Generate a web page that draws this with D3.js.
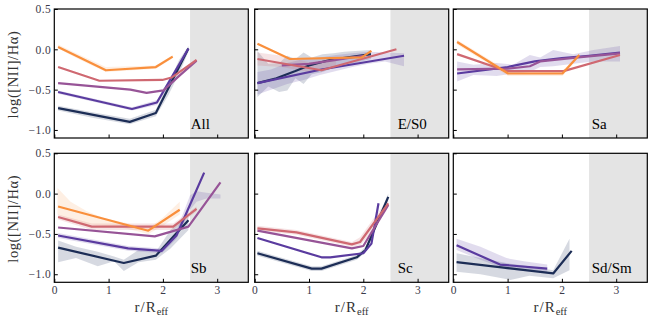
<!DOCTYPE html>
<html>
<head>
<meta charset="utf-8">
<script src="https://cdn.jsdelivr.net/npm/d3@7"></script>
<style>
  body { margin: 0; background: #fff; }
</style>
</head>
<body>
<svg id="chart" width="656" height="324"></svg>
<script>
'use strict';

// panels and colour bins (dark -> light)
const categories = [ 'All', 'E/S0', 'Sa', 'Sb', 'Sc', 'Sd/Sm' ];
const binColors  = [ '#1c2d56', '#5a3b9f', '#975497', '#cf6871', '#f98f3c' ];
const xTicks     = [ 0, 1, 2, 3 ];
const xTickLabels = [ '0', '1', '2', '3' ];
const yTicks     = [ 0.5, 0.0, -0.5, -1.0 ];
const yTickLabels = [ '0.5', '0.0', '\u22120.5', '\u22121.0' ];
const rLimit     = 2.5;

// median profiles [r, log([NII]/Ha)], one per bin (null = no data)
const profAll = [
  [ [0.07,-0.73], [1.39,-0.90], [1.87,-0.79], [2.47,0.01] ],
  [ [0.07,-0.53], [1.43,-0.74], [1.89,-0.66], [2.47,0.01] ],
  [ [0.07,-0.42], [1.40,-0.50], [1.70,-0.54], [2.01,-0.51], [2.30,-0.33], [2.62,-0.14] ],
  [ [0.07,-0.22], [0.83,-0.39], [1.99,-0.38], [2.16,-0.35], [2.62,-0.13] ],
  [ [0.07,0.03], [0.95,-0.26], [1.87,-0.22], [2.18,-0.09] ]
];
const profES0 = [
  [ [0.05,-0.42], [0.40,-0.36], [0.75,-0.27], [1.00,-0.20], [1.40,-0.13], [2.14,-0.06] ],
  [ [0.05,-0.42], [1.23,-0.25], [2.75,-0.08] ],
  [ [0.50,-0.20], [1.00,-0.18], [1.50,-0.13], [2.00,-0.08] ],
  [ [0.05,-0.12], [1.23,-0.26], [2.61,0.00] ],
  [ [0.05,0.07], [0.65,-0.12], [1.97,-0.10], [2.15,-0.02] ]
];
const profSa = [
  null,
  [ [0.07,-0.30], [1.00,-0.22], [1.50,-0.15], [2.00,-0.11], [2.50,-0.08], [3.07,-0.04] ],
  [ [0.07,-0.25], [1.00,-0.24], [1.41,-0.21], [1.60,-0.15], [2.30,-0.10], [3.07,-0.05] ],
  [ [0.07,-0.06], [0.98,-0.27], [2.03,-0.27], [3.07,-0.07] ],
  [ [0.07,0.09], [1.01,-0.30], [2.01,-0.30], [2.32,-0.07] ]
];
const profSb = [
  [ [0.07,-0.67], [1.28,-0.86], [1.87,-0.77], [2.47,-0.33] ],
  [ [0.07,-0.52], [1.36,-0.68], [1.98,-0.71], [2.25,-0.52], [2.76,0.26] ],
  [ [0.07,-0.42], [1.85,-0.53], [2.47,-0.41], [3.06,0.14] ],
  [ [0.07,-0.29], [0.69,-0.41], [2.19,-0.41], [2.62,-0.19] ],
  [ [0.07,-0.16], [1.73,-0.46], [2.31,-0.20] ]
];
const profSc = [
  [ [0.05,-0.74], [1.05,-0.93], [1.23,-0.93], [1.88,-0.79], [2.04,-0.70], [2.46,-0.04] ],
  [ [0.05,-0.55], [1.23,-0.79], [1.39,-0.79], [2.00,-0.74], [2.15,-0.62], [2.28,-0.12] ],
  [ [0.05,-0.46], [1.79,-0.68], [2.00,-0.65], [2.46,-0.14] ],
  [ [0.05,-0.43], [0.77,-0.48], [1.79,-0.63], [1.94,-0.60], [2.46,-0.12] ],
  null
];
const profSdSm = [
  [ [0.06,-0.85], [1.84,-0.99], [2.18,-0.71] ],
  [ [0.06,-0.64], [0.86,-0.88], [1.73,-0.93] ],
  null, null, null
];

// scatter bands [bin, [[r, lo, hi], ...]]
const bandAll = [
  [ 0, [ [0.07,-0.76,-0.70], [0.70,-0.85,-0.78], [1.39,-0.93,-0.86], [1.87,-0.83,-0.75], [2.10,-0.57,-0.42], [2.30,-0.30,-0.13], [2.47,-0.03,0.04] ] ],
  [ 1, [ [0.07,-0.55,-0.51], [1.43,-0.76,-0.72], [1.89,-0.69,-0.63], [2.47,-0.02,0.03] ] ],
  [ 4, [ [0.07,0.01,0.06], [0.50,-0.14,-0.08], [0.95,-0.28,-0.22], [1.87,-0.24,-0.20], [2.18,-0.11,-0.07] ] ]
];
const bandES0 = [
  [ 0, [ [0.05,-0.59,-0.02], [0.25,-0.46,-0.18], [0.45,-0.53,-0.17], [0.60,-0.51,-0.08], [0.75,-0.36,-0.12], [0.90,-0.43,-0.04], [1.05,-0.31,-0.10], [1.25,-0.28,-0.06], [1.45,-0.23,-0.05], [1.65,-0.20,-0.03], [1.85,-0.17,-0.02], [2.14,-0.12,-0.01] ] ],
  [ 1, [ [0.05,-0.56,-0.28], [0.30,-0.50,-0.25], [0.60,-0.43,-0.17], [0.90,-0.38,-0.12], [1.20,-0.32,-0.10], [1.50,-0.27,-0.07], [1.80,-0.22,-0.05], [2.10,-0.18,-0.03], [2.40,-0.15,-0.04], [2.75,-0.21,-0.05] ] ],
  [ 3, [ [0.05,-0.20,-0.04], [0.50,-0.22,-0.08], [1.00,-0.28,-0.16], [1.50,-0.22,-0.12] ] ]
];
const bandSa = [
  [ 1, [ [0.07,-0.40,-0.15], [0.37,-0.32,-0.19], [0.80,-0.33,-0.17], [1.10,-0.30,-0.19], [1.41,-0.28,-0.07], [1.60,-0.22,-0.10], [1.84,-0.21,-0.01], [2.21,-0.18,-0.06], [2.58,-0.15,-0.01], [3.07,-0.15,0.04] ] ],
  [ 4, [ [0.07,0.06,0.12], [1.01,-0.33,-0.27], [2.01,-0.33,-0.27], [2.32,-0.09,-0.05] ] ]
];
const bandSb = [
  [ 0, [ [0.07,-0.85,-0.58], [0.40,-0.80,-0.66], [0.80,-0.90,-0.72], [1.10,-0.84,-0.78], [1.28,-0.96,-0.82], [1.55,-0.85,-0.70], [1.87,-0.82,-0.72], [2.14,-0.68,-0.45], [2.47,-0.45,-0.25] ] ],
  [ 1, [ [0.07,-0.55,-0.49], [1.36,-0.71,-0.65], [1.98,-0.74,-0.68], [2.25,-0.56,-0.46], [2.50,-0.20,-0.02], [2.62,-0.10,0.03], [2.80,-0.06,0.01], [3.06,-0.06,-0.01] ] ],
  [ 3, [ [0.07,-0.32,-0.26], [0.69,-0.45,-0.37], [1.50,-0.45,-0.37], [2.19,-0.45,-0.37], [2.62,-0.22,-0.16] ] ],
  [ 4, [ [0.06,-0.26,0.07], [0.30,-0.33,-0.10], [0.60,-0.38,-0.22], [0.90,-0.40,-0.30], [1.30,-0.43,-0.36], [1.73,-0.50,-0.43], [2.00,-0.40,-0.30], [2.31,-0.26,-0.10] ] ]
];
const bandSc = [
  [ 0, [ [0.05,-0.77,-0.71], [1.05,-0.96,-0.90], [1.23,-0.96,-0.90], [1.88,-0.82,-0.76], [2.04,-0.73,-0.66], [2.46,-0.08,0.00] ] ],
  [ 3, [ [0.05,-0.46,-0.40], [0.77,-0.51,-0.45], [1.79,-0.66,-0.60], [1.94,-0.64,-0.54], [2.20,-0.45,-0.30], [2.46,-0.17,-0.07] ] ]
];
const bandSdSm = [
  [ 0, [ [0.06,-0.97,-0.74], [0.50,-1.00,-0.80], [1.05,-1.07,-0.87], [1.40,-1.02,-0.90], [1.84,-1.05,-0.95], [2.14,-0.95,-0.56] ] ],
  [ 1, [ [0.06,-0.70,-0.56], [0.50,-0.82,-0.66], [0.98,-0.94,-0.80], [1.30,-0.96,-0.84], [1.73,-0.98,-0.88] ] ]
];

const profiles = [ profAll, profES0, profSa, profSb, profSc, profSdSm ];
const bands    = [ bandAll, bandES0, bandSa, bandSb, bandSc, bandSdSm ];

// layout
const colX   = [ 54.3, 254.7, 453.3 ],
      rowY   = [ 9, 153.3 ],
      panelW = 194,
      panelH = 129,
      tagX   = [ 136.4, 143, 138.4, 136.4, 143, 138.4 ],
      serif  = '"Liberation Serif", "Times New Roman", serif';

const svg = d3.select( '#chart' ).attr( 'font-family', serif );

const x = d3.scaleLinear().domain( [ 0, panelW / 54.3 ] ).range( [ 0, panelW ] );
const y = d3.scaleLinear().domain( [ -1.1, 0.5 ] ).range( [ panelH, 0 ] );

const line = d3.line().x( (d) => x( d[0] ) ).y( (d) => y( d[1] ) );
const area = d3.area().x( (d) => x( d[0] ) ).y0( (d) => y( d[1] ) ).y1( (d) => y( d[2] ) );

svg.append( 'defs' ).append( 'clipPath' ).attr( 'id', 'clip' )
  .append( 'rect' ).attr( 'width', panelW ).attr( 'height', panelH );

categories.forEach( (cat, i) => {
  const col = i % 3, row = Math.floor( i / 3 );
  const g = svg.append( 'g' ).attr( 'transform', `translate(${colX[col]},${rowY[row]})` );

  // excluded radial range
  g.append( 'rect' )
    .attr( 'x', x( rLimit ) ).attr( 'y', 0 )
    .attr( 'width', panelW - x( rLimit ) ).attr( 'height', panelH )
    .attr( 'fill', '#e4e4e4' );

  const plot = g.append( 'g' ).attr( 'clip-path', 'url(#clip)' );

  bands[i].forEach( ([ bin, pts ]) => {
    plot.append( 'path' )
      .attr( 'd', area( pts ) )
      .attr( 'fill', binColors[bin] )
      .attr( 'fill-opacity', bin === 4 ? 0.14 : 0.18 );
  });

  profiles[i].forEach( (pts, bin) => {
    if( !pts ) return;
    plot.append( 'path' )
      .attr( 'd', line( pts ) )
      .attr( 'fill', 'none' )
      .attr( 'stroke', binColors[bin] )
      .attr( 'stroke-width', 2.2 )
      .attr( 'stroke-linejoin', 'round' );
  });

  // axes with inward ticks
  const xAxis = d3.axisBottom( x ).tickValues( xTicks ).tickSizeInner( -3.5 ).tickSizeOuter( 0 )
                  .tickFormat( (d, k) => row === 1 ? xTickLabels[k] : '' );
  const yAxis = d3.axisLeft( y ).tickValues( yTicks ).tickSizeInner( -3.5 ).tickSizeOuter( 0 )
                  .tickFormat( (d, k) => col === 0 ? yTickLabels[k] : '' );

  const gx = g.append( 'g' ).attr( 'transform', `translate(0,${panelH})` ).call( xAxis );
  const gy = g.append( 'g' ).call( yAxis );
  [ gx, gy ].forEach( (a) => {
    a.attr( 'font-family', serif ).attr( 'font-size', 11.5 );
    a.select( '.domain' ).remove();
    a.selectAll( 'line' ).attr( 'stroke', '#000' ).attr( 'stroke-width', 1 );
    a.selectAll( 'text' ).attr( 'fill', '#3a3a4a' ).attr( 'letter-spacing', 0.5 );
  });
  gx.selectAll( 'text' ).attr( 'y', 4 );
  gy.selectAll( 'text' ).attr( 'x', -3 );

  // frame
  g.append( 'rect' )
    .attr( 'width', panelW ).attr( 'height', panelH )
    .attr( 'fill', 'none' ).attr( 'stroke', '#000' ).attr( 'stroke-width', 1.2 );

  // morphology tag
  g.append( 'text' )
    .attr( 'x', tagX[i] ).attr( 'y', panelH - 9 )
    .attr( 'font-family', serif )
    .attr( 'font-size', 15 )
    .attr( 'fill', '#000' )
    .text( cat );

  if( row === 1 ) {
    const t = g.append( 'text' )
      .attr( 'x', panelW / 2 ).attr( 'y', panelH + 30 )
      .attr( 'text-anchor', 'middle' )
      .attr( 'font-family', serif )
      .attr( 'font-size', 15 )
      .attr( 'fill', '#333' );
    t.append( 'tspan' ).attr( 'letter-spacing', 1 ).text( 'r/R' );
    t.append( 'tspan' ).attr( 'dy', 3 ).attr( 'font-size', 10.5 ).text( 'eff' );
  }
  if( col === 0 ) {
    svg.append( 'text' )
      .attr( 'transform', `translate(18,${rowY[row] + panelH / 2 + 1}) rotate(-90)` )
      .attr( 'text-anchor', 'middle' )
      .attr( 'font-family', serif )
      .attr( 'font-size', 14.5 )
      .attr( 'letter-spacing', 0.6 )
      .attr( 'fill', '#333' )
      .text( 'log([NII]/H\u03b1)' );
  }
});
</script>
</body>
</html>
